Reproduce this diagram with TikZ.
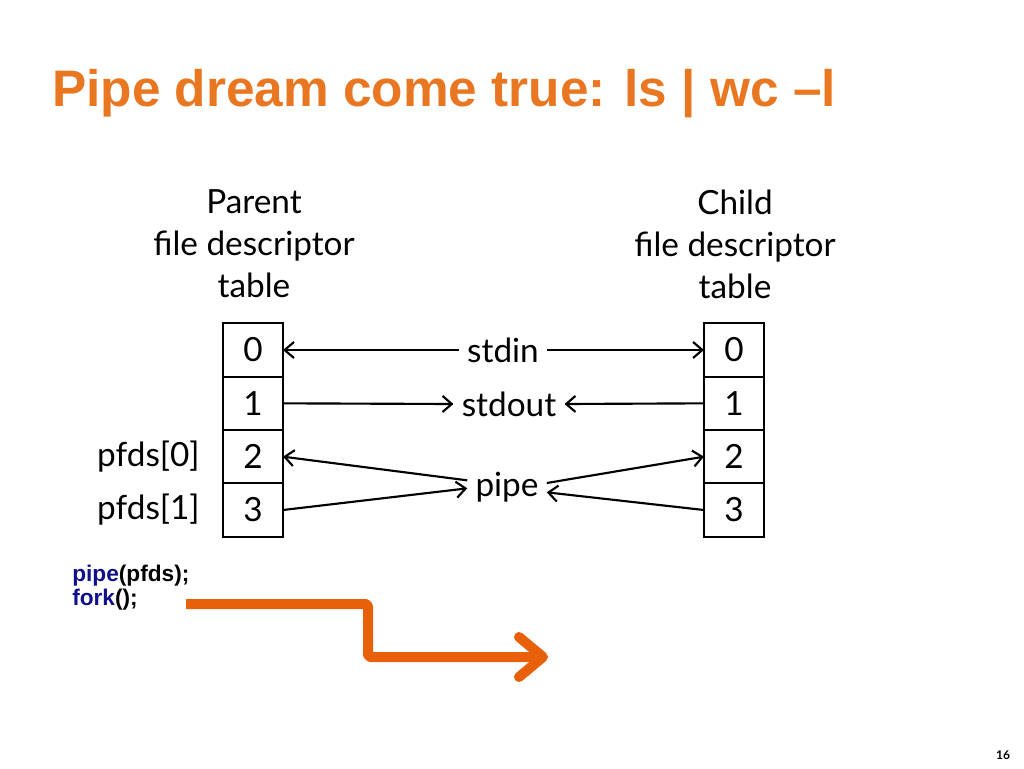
\documentclass[tikz,border=0pt]{standalone}
\usepackage{fontspec}
\setmainfont{Lato}
\newfontfamily\headfont{Liberation Sans}
\usetikzlibrary{positioning, arrows.meta}
\definecolor{titleorange}{RGB}{233,118,33}
\definecolor{forkorange}{RGB}{232,96,10}
\definecolor{codeblue}{RGB}{16,16,140}
\begin{document}
\begin{tikzpicture}[x=0.75pt, y=-0.75pt]
\tikzstyle{cell}=[rectangle, draw=black, line width=1.4pt, outer sep=0pt, minimum width=45pt, minimum height=40pt, font=\fontsize{25}{30}\selectfont, node distance=0pt]
\tikzstyle{tabletext}=[align=center, font=\fontsize{25}{31.5}\selectfont]
\tikzstyle{stream}=[inner sep=6pt, font=\fontsize{25}{30}\selectfont]
\tikzstyle{connect}=[-{Straight Barb[length=7pt, width=12pt]}, line width=1.6pt]
\tikzstyle{forkarrow}=[-{Straight Barb[length=18pt, width=30pt, round]}, line width=7.5pt, draw=forkorange, line join=round, rounded corners=2pt]
\useasboundingbox (0,0) rectangle (1024,768);
    % title
    \node[anchor=base west, inner sep=0pt, text=titleorange, font=\headfont\bfseries\fontsize{38.5}{46}\selectfont] (title) at (52,106) {Pipe dream come true: ls | wc –l};
    % parent table
    \node[tabletext] (parent) at (254,244) {Parent\\file descriptor\\table};
    \node[cell] (p0) at (253,350) {0};
    \node[cell] (p1) [below=of p0] {1};
    \node[cell] (p2) [below=of p1] {2};
    \node[cell] (p3) [below=of p2] {3};
    \node[tabletext, left=14pt of p2] (pfds0) {pfds[0]};
    \node[tabletext, left=14pt of p3] (pfds1) {pfds[1]};
    % child table
    \node[tabletext] (child) at (735,244) {Child\\file descriptor\\table};
    \node[cell] (c0) at (734,350) {0};
    \node[cell] (c1) [below=of c0] {1};
    \node[cell] (c2) [below=of c1] {2};
    \node[cell] (c3) [below=of c2] {3};
    % streams
    \node[stream] (stdin) at (503,350) {stdin};
    \node[stream] (stdout) at (509,404) {stdout};
    \node[stream] (pipe) at (507,487) {pipe};
    \draw[connect] (stdin.west) -- (p0.east);
    \draw[connect] (stdin.east) -- (c0.west);
    \draw[connect] (p1.east) -- (stdout.west);
    \draw[connect] (c1.west) -- (stdout.east);
    \draw[connect] ([yshift=5pt]pipe.west) -- (p2.east);
    \draw[connect] (p3.east) -- ([yshift=-1pt]pipe.west);
    \draw[connect] ([yshift=3pt]pipe.east) -- (c2.west);
    \draw[connect] (c3.west) -- ([yshift=-4pt]pipe.east);
    % code
    \node[anchor=base west, align=left, inner sep=0pt, font=\headfont\bfseries\fontsize{17}{17.5}\selectfont] (code) at (72,605) {\textcolor{codeblue}{pipe}(pfds);\\\textcolor{codeblue}{fork}();};
    \coordinate (forkstart) at (186,604);
    \coordinate (forkstep) at (368,657);
    \coordinate (forkend) at (548,657);
    \draw[forkarrow] (forkstart) -| (forkstep) -- (forkend);
    % page number
    \node[font=\bfseries\fontsize{9}{11}\selectfont] (page) at (1003,755) {16};
\end{tikzpicture}
\end{document}
